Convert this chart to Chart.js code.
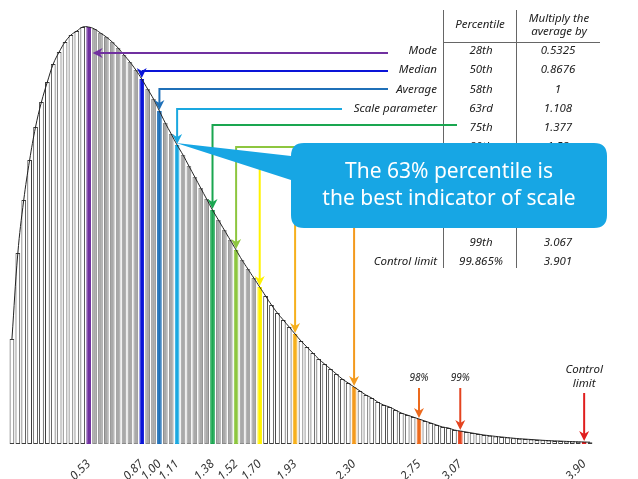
<!DOCTYPE html>
<html>
<head>
<meta charset="utf-8">
<script src="https://cdn.jsdelivr.net/npm/chart.js@4.4.0/dist/chart.umd.min.js"></script>
<style>
  html, body { margin: 0; padding: 0; background: #fff; }
</style>
</head>
<body>
<canvas id="weibullChart" width="638" height="479"></canvas>
<script>
// bar heights (arbitrary units), one bar per 0.04 x average
var binWidth = 0.04;
var heights = [
  105, 191, 244, 284, 317, 342, 362, 380, 392, 402,
  409, 413, 417, 417, 415, 411, 407, 402, 396, 389,
  382, 374, 365, 355, 345, 333, 321, 310, 299, 289,
  278, 267, 256, 245, 234, 224, 214, 204, 194, 184,
  175, 166, 157, 148, 139, 131, 124, 117, 110, 103,
  97, 91, 85, 80, 75, 70, 65, 61, 57, 53,
  49, 46, 42, 39, 37, 34, 31, 29, 27, 25,
  23, 21, 19, 17, 16, 14, 13, 12, 11, 10,
  9, 8.3, 7.6, 7, 6.4, 5.8, 5.3, 4.9, 4.5, 4.1,
  3.7, 3.4, 3.1, 2.9, 2.6, 2.4, 2.2, 2.0, 1.8
];
var categories = heights.map(function (h, i) { return (i * binWidth).toFixed(2); });

// the marked percentiles: bar they fall in, tick label, table entries
var markIndex = [13, 22, 25, 28, 34, 38, 42, 48, 58, 69, 76, 97];
var markTicks = ["0.53", "0.87", "1.00", "1.11", "1.38", "1.52", "1.70", "1.93", "2.30", "2.75", "3.07", "3.90"];
var markNames = ["Mode", "Median", "Average", "Scale parameter", "", "", "", "", "", "", "", "Control limit"];
var markPct = ["28th", "50th", "58th", "63rd", "75th", "80th", "85th", "90th", "95th", "98th", "99th", "99.865%"];
var markMult = ["0.5325", "0.8676", "1", "1.108", "1.377", "1.52", "1.70", "1.93", "2.30", "2.75", "3.067", "3.901"];
var markColors = ["#7030a0", "#0a14d8", "#1f70b8", "#1aa8e0", "#1aa650", "#8dc63f", "#fff200",
                  "#f6b01d", "#f39a1e", "#ec6a1d", "#e4431f", "#e01e1e"];
var shadeFrom = 14, shadeTo = 41;

var hand = '"Noto Sans", sans-serif';

function barFill(i) {
  var k = markIndex.indexOf(i);
  if (k >= 0) return markColors[k];
  return (i >= shadeFrom && i <= shadeTo) ? "#a9a9a9" : "#ffffff";
}
function barEdge(i) {
  var k = markIndex.indexOf(i);
  if (k >= 0) return markColors[k];
  return (i >= shadeFrom && i <= shadeTo) ? "#8a8a8a" : "#3c3c3c";
}

function head(ctx, x, y, dir) {
  ctx.beginPath();
  if (dir === "down") {
    ctx.moveTo(x, y); ctx.lineTo(x - 5, y - 10); ctx.lineTo(x, y - 7); ctx.lineTo(x + 5, y - 10);
  } else {
    ctx.moveTo(x, y); ctx.lineTo(x + 10, y - 5); ctx.lineTo(x + 7, y); ctx.lineTo(x + 10, y + 5);
  }
  ctx.closePath();
  ctx.fill();
}

// where each arrow leaves the table (start x, level y); null x = straight down
var routes = [
  { x: 388, y: 53, left: true },
  { x: 388, y: 71 },
  { x: 388, y: 89 },
  { x: 342, y: 109 },
  { x: 457, y: 125 },
  { x: 400, y: 147 },
  { x: 400, y: 160 },
  { x: 400, y: 200 },
  { x: 400, y: 205 },
  { x: null, y: 388 },
  { x: null, y: 388 },
  { x: null, y: 393 }
];

var overlay = {
  id: "overlay",
  afterDatasetsDraw: function (chart) {
    var ctx = chart.ctx, xs = chart.scales.x, ys = chart.scales.y;
    ctx.save();

    // table
    ctx.fillStyle = "#222";
    ctx.textBaseline = "middle";
    ctx.font = "italic 11.5px " + hand;
    ctx.textAlign = "center";
    ctx.fillText("Percentile", 480, 25);
    ctx.fillText("Multiply the", 559, 19);
    ctx.fillText("average by", 559, 32);
    ctx.strokeStyle = "#666";
    ctx.lineWidth = 1;
    ctx.beginPath();
    ctx.moveTo(443.5, 10); ctx.lineTo(443.5, 268);
    ctx.moveTo(516.5, 10); ctx.lineTo(516.5, 268);
    ctx.moveTo(443, 42.5); ctx.lineTo(600, 42.5);
    ctx.stroke();
    for (var r = 0; r < markPct.length; r++) {
      var ry = 51 + 19.2 * r;
      ctx.textAlign = "right";
      ctx.fillText(markNames[r], 437, ry);
      ctx.textAlign = "center";
      ctx.fillText(markPct[r], 481, ry);
      ctx.fillText(markMult[r], 558, ry);
    }

    // arrows from the table down to the bars
    for (var i = 0; i < markIndex.length; i++) {
      var rt = routes[i];
      var bx = xs.getPixelForValue(markIndex[i]);
      var top = ys.getPixelForValue(heights[markIndex[i]]);
      ctx.strokeStyle = markColors[i];
      ctx.fillStyle = markColors[i];
      ctx.lineWidth = 2;
      ctx.beginPath();
      if (rt.left) {
        ctx.moveTo(rt.x, rt.y); ctx.lineTo(bx + 8, rt.y); ctx.stroke();
        head(ctx, bx + 4, rt.y, "left");
      } else {
        ctx.moveTo(rt.x === null ? bx : rt.x, rt.y);
        ctx.lineTo(bx, rt.y);
        ctx.lineTo(bx, top - 8);
        ctx.stroke();
        head(ctx, bx, top - 1, "down");
      }
    }

    // small labels over the tail arrows
    ctx.fillStyle = "#222";
    ctx.textAlign = "center";
    ctx.font = "italic 10px " + hand;
    ctx.fillText("98%", xs.getPixelForValue(markIndex[9]), 378);
    ctx.fillText("99%", xs.getPixelForValue(markIndex[10]), 378);
    ctx.font = "italic 11.5px " + hand;
    ctx.fillText("Control", xs.getPixelForValue(markIndex[11]), 370);
    ctx.fillText("limit", xs.getPixelForValue(markIndex[11]), 384);

    // callout
    var bxL = 291, bxR = 607, byT = 143, byB = 228, rad = 13;
    ctx.fillStyle = "#17a6e4";
    ctx.beginPath();
    ctx.moveTo(bxL + rad, byT);
    ctx.lineTo(bxR - rad, byT);
    ctx.quadraticCurveTo(bxR, byT, bxR, byT + rad);
    ctx.lineTo(bxR, byB - rad);
    ctx.quadraticCurveTo(bxR, byB, bxR - rad, byB);
    ctx.lineTo(bxL + rad, byB);
    ctx.quadraticCurveTo(bxL, byB, bxL, byB - rad);
    ctx.lineTo(bxL, 180);
    ctx.lineTo(xs.getPixelForValue(markIndex[3]) - 1, ys.getPixelForValue(heights[markIndex[3]]) - 2);
    ctx.lineTo(bxL, 156);
    ctx.lineTo(bxL, byT + rad);
    ctx.quadraticCurveTo(bxL, byT, bxL + rad, byT);
    ctx.closePath();
    ctx.fill();
    ctx.fillStyle = "#ffffff";
    ctx.font = "21px " + hand;
    ctx.textAlign = "center";
    ctx.fillText("The 63% percentile is", 449, 172);
    ctx.fillText("the best indicator of scale", 449, 199);

    ctx.restore();
  }
};

new Chart(document.getElementById("weibullChart").getContext("2d"), {
  data: {
    labels: categories,
    datasets: [
      {
        type: "line",
        data: heights,
        borderColor: "#222",
        borderWidth: 1,
        pointRadius: 0,
        tension: 0.4,
        order: 0
      },
      {
        type: "bar",
        data: heights,
        backgroundColor: heights.map(function (h, i) { return barFill(i); }),
        borderColor: heights.map(function (h, i) { return barEdge(i); }),
        borderWidth: 1,
        borderSkipped: false,
        categoryPercentage: 1,
        barPercentage: 0.8,
        order: 1
      }
    ]
  },
  options: {
    responsive: false,
    animation: false,
    devicePixelRatio: 1,
    layout: { padding: { left: 9, right: 45, top: 20, bottom: 0 } },
    plugins: { legend: { display: false }, tooltip: { enabled: false } },
    scales: {
      x: {
        grid: { display: false },
        border: { display: false },
        ticks: {
          autoSkip: false,
          minRotation: 45,
          maxRotation: 45,
          padding: 5,
          color: "#333",
          font: { family: hand, size: 12, style: "italic" },
          callback: function (v, i) {
            var k = markIndex.indexOf(i);
            return k < 0 ? "" : markTicks[k];
          }
        },
        afterFit: function (s) { s.height = 35; }
      },
      y: { display: false, min: 0, max: 424 }
    }
  },
  plugins: [overlay]
});
</script>
</body>
</html>
